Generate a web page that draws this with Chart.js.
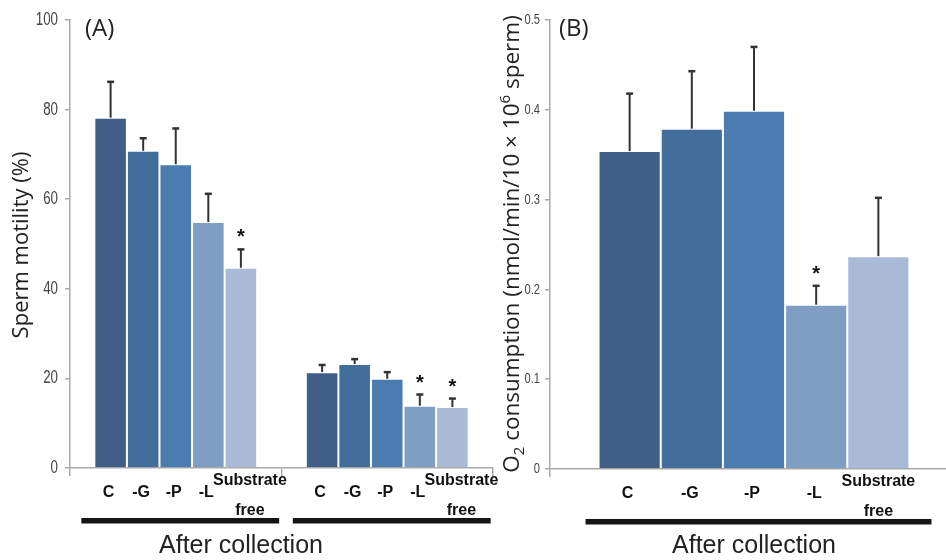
<!DOCTYPE html>
<html>
<head>
<meta charset="utf-8">
<script src="https://cdn.jsdelivr.net/npm/chart.js@4.4.0/dist/chart.umd.min.js"></script>
<style>
html, body { margin: 0; padding: 0; background: #fff; overflow: hidden; }
body { width: 946px; height: 560px; position: relative; }
#chartA { position: absolute; left: 0; top: 0; }
#chartB { position: absolute; left: 490px; top: 0; }
</style>
</head>
<body>
<canvas id="chartA" width="500" height="560"></canvas>
<canvas id="chartB" width="470" height="560"></canvas>
<script>
// treatments, same order in both panels
const treatments = ['C', '-G', '-P', '-L', 'Substrate free']
const barColors = ['#415e87', '#426e9c', '#4a7caf', '#809ec3', '#a8bad6']

// panel A: sperm motility (%), two groups of bars
const groupsA = ['group 1', 'group 2']
const motilityMean = [[78.2, 70.8, 67.8, 54.9, 44.7], [21.4, 23.2, 19.9, 13.9, 13.6]]
const motilityErr = [[8.0, 2.8, 8.0, 6.3, 4.1], [1.6, 1.1, 1.5, 2.5, 1.9]]
const motilitySig = [[0, 0, 0, 0, 1], [0, 0, 0, 1, 1]]
const motilityTicks = [0, 20, 40, 60, 80, 100]

// panel B: O2 consumption
const groupsB = ['After collection']
const o2Mean = [0.354, 0.379, 0.399, 0.183, 0.237]
const o2Err = [0.064, 0.064, 0.071, 0.021, 0.065]
const o2Sig = [0, 0, 0, 1, 0]
const o2Ticks = [0, 0.1, 0.2, 0.3, 0.4, 0.5]

const axisGrey = '#a9a9a9'

// error bars, stars, bar labels, group lines, titles, narrow tick labels
const decorPlugin = {
    id: 'decor',
    afterDraw(chart, args, opts) {
        const ctx = chart.ctx
        const area = chart.chartArea
        const y = chart.scales.y
        ctx.save()

        // y tick labels, squeezed to look like a condensed face
        ctx.fillStyle = '#454545'
        ctx.textAlign = 'right'
        ctx.textBaseline = 'middle'
        ctx.font = opts.tickSize + 'px "Liberation Sans", Arial, sans-serif'
        opts.ticks.forEach(v => {
            const py = y.getPixelForValue(v)
            ctx.save()
            ctx.translate(area.left - opts.tickGap, py)
            ctx.scale(0.74, 1)
            ctx.fillText(opts.fmt(v), 0, 0)
            ctx.restore()
        })

        chart.data.datasets.forEach((ds, i) => {
            const meta = chart.getDatasetMeta(i)
            meta.data.forEach((bar, j) => {
                const top = y.getPixelForValue(ds.data[j] + ds.errs[j])
                ctx.strokeStyle = '#333'
                ctx.lineWidth = 2
                ctx.beginPath()
                ctx.moveTo(bar.x, bar.y)
                ctx.lineTo(bar.x, top)
                ctx.stroke()
                ctx.lineWidth = 2.5
                ctx.beginPath()
                ctx.moveTo(bar.x - 3.5, top)
                ctx.lineTo(bar.x + 3.5, top)
                ctx.stroke()

                ctx.fillStyle = '#111'
                ctx.textAlign = 'center'
                if (ds.sig[j]) {
                    ctx.font = 'bold 20px "Liberation Sans", Arial, sans-serif'
                    ctx.textBaseline = 'alphabetic'
                    ctx.fillText('*', bar.x, top - 6)
                }
                ctx.font = 'bold 16px "Liberation Sans", Arial, sans-serif'
                ctx.textBaseline = 'middle'
                const words = ds.label.split(' ')
                if (words.length > 1) {
                    ctx.fillText(words[0], bar.x + opts.twoLineDx, area.bottom + 13)
                    ctx.fillText(words[1], bar.x + opts.twoLineDx, area.bottom + 43)
                } else {
                    ctx.fillText(ds.label, bar.x - 2, area.bottom + 25)
                }
            })
        })

        // thick black line under each group
        const first = chart.getDatasetMeta(0).data
        const last = chart.getDatasetMeta(chart.data.datasets.length - 1).data
        first.forEach((bar, j) => {
            const x0 = bar.x - bar.width / 2 - 13
            const x1 = last[j].x + last[j].width / 2 + 22
            ctx.fillStyle = '#151515'
            ctx.fillRect(x0, area.bottom + 50, x1 - x0, 5.5)
        })

        // bottom caption
        ctx.fillStyle = '#222'
        ctx.font = '25px "Liberation Sans", Arial, sans-serif'
        ctx.textAlign = 'center'
        ctx.textBaseline = 'middle'
        ctx.fillText('After collection', opts.captionX, 546)

        // panel letter
        ctx.font = '24px "Open Sans", sans-serif'
        ctx.textAlign = 'left'
        ctx.fillText(opts.panel, area.left + opts.panelDx, 29)

        // rotated y title, pieces may be sub/superscript
        ctx.translate(opts.titleX, opts.titleY)
        ctx.rotate(-Math.PI / 2)
        const big = opts.titleSize + 'px "Open Sans", sans-serif'
        const small = Math.round(opts.titleSize * 0.65) + 'px "Open Sans", sans-serif'
        let total = 0
        opts.title.forEach(p => {
            ctx.font = p.s ? small : big
            total += ctx.measureText(p.t).width
        })
        let x = -total / 2
        ctx.textAlign = 'left'
        ctx.textBaseline = 'middle'
        opts.title.forEach(p => {
            ctx.font = p.s ? small : big
            const dy = p.s === 'sub' ? 7 : p.s === 'sup' ? -7 : 0
            ctx.fillText(p.t, x, dy)
            x += ctx.measureText(p.t).width
        })
        ctx.restore()
    }
}

function makeScales(ticks, yWidth, xHeight) {
    return {
        x: {
            offset: true,
            grid: { offset: true, drawOnChartArea: false, drawTicks: true, tickLength: 8, color: axisGrey, lineWidth: 1.5 },
            border: { color: axisGrey, width: 1.5 },
            ticks: { callback: () => '' },
            afterFit: (scale) => { scale.height = xHeight }
        },
        y: {
            min: ticks[0],
            max: ticks[ticks.length - 1],
            afterBuildTicks: (scale) => { scale.ticks = ticks.map(v => ({ value: v })) },
            grid: { drawOnChartArea: false, tickLength: 5, color: axisGrey, lineWidth: 1.5 },
            border: { color: axisGrey, width: 1.5 },
            ticks: { callback: () => '' },
            afterFit: (scale) => { scale.width = yWidth }
        }
    }
}

function makeDatasets(means, errs, sigs, catPct) {
    return treatments.map((t, i) => ({
        label: t,
        data: means.map(g => g[i]),
        errs: errs.map(g => g[i]),
        sig: sigs.map(g => g[i]),
        backgroundColor: barColors[i],
        borderColor: 'rgba(255,255,255,0.45)',
        borderWidth: 1,
        barPercentage: 1,
        categoryPercentage: catPct
    }))
}

new Chart(document.getElementById('chartA'), {
    type: 'bar',
    data: {
        labels: groupsA,
        datasets: makeDatasets(motilityMean, motilityErr, motilitySig, 0.77)
    },
    options: {
        responsive: false,
        animation: false,
        layout: { padding: { top: 20, right: 7, left: 0, bottom: 0 } },
        scales: makeScales(motilityTicks, 70, 92),
        plugins: {
            legend: { display: false },
            tooltip: { enabled: false },
            decor: {
                ticks: motilityTicks,
                fmt: v => String(v),
                tickSize: 18,
                tickGap: 12,
                twoLineDx: 9,
                captionX: 241,
                panel: '(A)',
                panelDx: 15,
                titleX: 22,
                titleY: 245,
                titleSize: 22,
                title: [{ t: 'Sperm motility (%)' }]
            }
        }
    },
    plugins: [decorPlugin]
})

new Chart(document.getElementById('chartB'), {
    type: 'bar',
    data: {
        labels: groupsB,
        datasets: makeDatasets([o2Mean], [o2Err], [o2Sig], 0.762)
    },
    options: {
        responsive: false,
        animation: false,
        layout: { padding: { top: 20, right: 2, left: 0, bottom: 0 } },
        scales: makeScales(o2Ticks, 60, 91),
        plugins: {
            legend: { display: false },
            tooltip: { enabled: false },
            decor: {
                ticks: o2Ticks,
                fmt: v => v === 0 ? '0' : v.toFixed(1),
                tickSize: 15,
                tickGap: 10,
                twoLineDx: 0,
                captionX: 264,
                panel: '(B)',
                panelDx: 9,
                titleX: 23,
                titleY: 244,
                titleSize: 22.5,
                title: [
                    { t: 'O' }, { t: '2', s: 'sub' },
                    { t: ' consumption (nmol/min/10 \u00d7 10' }, { t: '6', s: 'sup' },
                    { t: ' sperm)' }
                ]
            }
        }
    },
    plugins: [decorPlugin]
})
</script>
</body>
</html>
